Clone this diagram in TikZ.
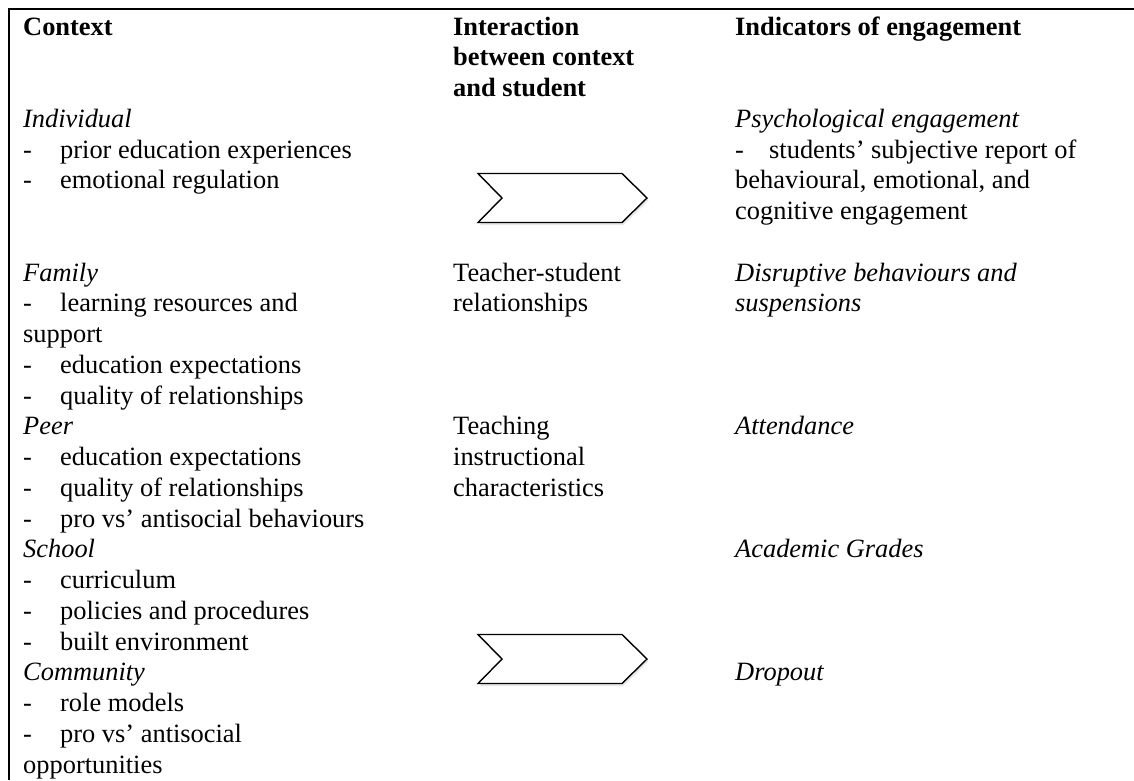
\documentclass[tikz,border=0pt]{standalone}
\usepackage{fontspec}
\setmainfont{Liberation Serif}
\usetikzlibrary{shadows}

% one table line: name, x, line number, text
\newcommand\rowtext[4]{\node[cell] (#1) at (#2,{35+30.75*#3}) {#4};}

\begin{document}
\begin{tikzpicture}[x=1pt,y=-1pt,
  cell/.style={anchor=base west,inner sep=0pt,font=\fontsize{26.4}{30.6}\selectfont},
  rule/.style={line width=2pt,black},
  chevron/.style={draw=black,line width=1.4pt,fill=white,line join=miter,
    drop shadow={opacity=0.18,shadow xshift=1.5pt,shadow yshift=-2.5pt}}]

% canvas
\fill[white] (0,0) rectangle (1134,780);
\useasboundingbox (0,0) rectangle (1134,780);

% table rules
\draw[rule] (8.5,780) -- (8.5,9) -- (1134,9);

% chevrons
\path[chevron] (478,173.5) -- (622,173.5) -- (647,198) -- (622,222.5)
  -- (478,222.5) -- (502,198) -- cycle;
\path[chevron] (478,634.5) -- (622,634.5) -- (647,659) -- (622,683.5)
  -- (478,683.5) -- (502,659) -- cycle;

% column 1: context
\rowtext{hctx}{23}{0}{\textbf{Context}}
\rowtext{ind}{23}{3}{\textit{Individual}}
\rowtext{indda}{23}{4}{-}
\rowtext{india}{60}{4}{prior education experiences}
\rowtext{inddb}{23}{5}{-}
\rowtext{indib}{60}{5}{emotional regulation}
\rowtext{fam}{23}{8}{\textit{Family}}
\rowtext{famda}{23}{9}{-}
\rowtext{famia}{60}{9}{learning resources and}
\rowtext{famic}{23}{10}{support}
\rowtext{famdb}{23}{11}{-}
\rowtext{famib}{60}{11}{education expectations}
\rowtext{famdd}{23}{12}{-}
\rowtext{famid}{60}{12}{quality of relationships}
\rowtext{peer}{23}{13}{\textit{Peer}}
\rowtext{peerda}{23}{14}{-}
\rowtext{peeria}{60}{14}{education expectations}
\rowtext{peerdb}{23}{15}{-}
\rowtext{peerib}{60}{15}{quality of relationships}
\rowtext{peerdc}{23}{16}{-}
\rowtext{peeric}{60}{16}{pro vs’ antisocial behaviours}
\rowtext{sch}{23}{17}{\textit{School}}
\rowtext{schda}{23}{18}{-}
\rowtext{schia}{60}{18}{curriculum}
\rowtext{schdb}{23}{19}{-}
\rowtext{schib}{60}{19}{policies and procedures}
\rowtext{schdc}{23}{20}{-}
\rowtext{schic}{60}{20}{built environment}
\rowtext{com}{23}{21}{\textit{Community}}
\rowtext{comda}{23}{22}{-}
\rowtext{comia}{60}{22}{role models}
\rowtext{comdb}{23}{23}{-}
\rowtext{comib}{60}{23}{pro vs’ antisocial}
\rowtext{comic}{23}{24}{opportunities}

% column 2: interaction
\rowtext{hinta}{453}{0}{\textbf{Interaction}}
\rowtext{hintb}{453}{1}{\textbf{between context}}
\rowtext{hintc}{453}{2}{\textbf{and student}}
\rowtext{tsra}{453}{8}{Teacher-student}
\rowtext{tsrb}{453}{9}{relationships}
\rowtext{tica}{453}{13}{Teaching}
\rowtext{ticb}{453}{14}{instructional}
\rowtext{ticc}{453}{15}{characteristics}

% column 3: indicators
\rowtext{hind}{735}{0}{\textbf{Indicators of engagement}}
\rowtext{psy}{735}{3}{\textit{Psychological engagement}}
\rowtext{psyd}{735}{4}{-}
\rowtext{psya}{769}{4}{students’ subjective report of}
\rowtext{psyb}{735}{5}{behavioural, emotional, and}
\rowtext{psyc}{735}{6}{cognitive engagement}
\rowtext{disa}{735}{8}{\textit{Disruptive behaviours and}}
\rowtext{disb}{735}{9}{\textit{suspensions}}
\rowtext{att}{735}{13}{\textit{Attendance}}
\rowtext{aca}{735}{17}{\textit{Academic Grades}}
\rowtext{drop}{735}{21}{\textit{Dropout}}

\end{tikzpicture}
\end{document}
